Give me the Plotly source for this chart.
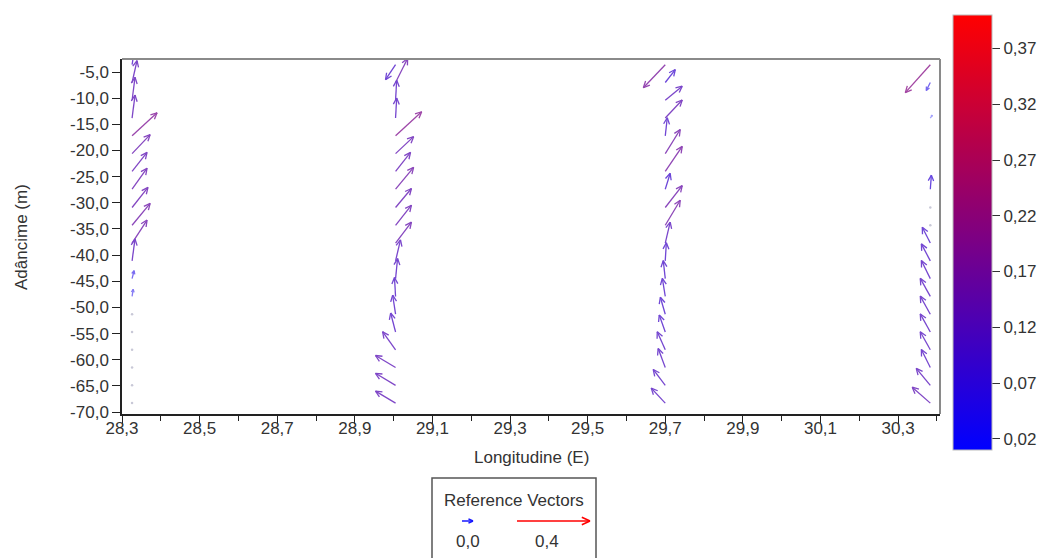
import math
import plotly.graph_objects as go

# ---------------- data ----------------
depth_levels = [-3.6, -7.0, -10.4, -13.8, -17.2, -20.6, -24.0, -27.4, -30.9, -34.3,
                -37.7, -41.1, -44.5, -47.9, -51.3, -54.7, -58.1, -61.5, -64.9, -68.3]
station_lon = [28.326, 29.005, 29.700, 30.383]

# velocity components (m/s): u = eastward, v = upward on the section
u_st1 = [0.016, 0.027, 0.016, 0.016, 0.137, 0.099, 0.082, 0.082, 0.087, 0.099,
         0.082, 0.016, 0.011, 0.006, 0.001, 0.001, 0.001, 0.001, 0.001, 0.001]
v_st1 = [0.099, 0.120, 0.126, 0.126, 0.126, 0.104, 0.104, 0.115, 0.110, 0.120,
         0.126, 0.120, 0.044, 0.039, 0.001, 0.001, 0.001, 0.001, 0.001, 0.001]

u_st2 = [-0.055, 0.066, 0.006, 0.006, 0.143, 0.099, 0.082, 0.099, 0.087, 0.087,
         0.087, 0.027, 0.011, -0.006, -0.016, -0.027, -0.071, -0.110, -0.110, -0.110]
v_st2 = [-0.082, 0.132, 0.110, 0.110, 0.132, 0.093, 0.104, 0.120, 0.104, 0.110,
         0.115, 0.115, 0.110, 0.104, 0.104, 0.104, 0.099, 0.066, 0.066, 0.066]

u_st3 = [-0.120, 0.055, 0.093, 0.093, 0.011, 0.082, 0.093, 0.027, 0.093, 0.082,
         0.027, 0.006, -0.011, -0.016, -0.027, -0.033, -0.044, -0.039, -0.066, -0.077]
v_st3 = [-0.126, 0.071, 0.077, 0.099, 0.099, 0.132, 0.137, 0.087, 0.120, 0.137,
         0.115, 0.099, 0.099, 0.099, 0.093, 0.093, 0.099, 0.104, 0.087, 0.082]

NA = None
u_st4 = [-0.137, -0.022, NA, 0.011, NA, NA, NA, 0.006, 0.001, 0.002,
         -0.044, -0.049, -0.049, -0.055, -0.055, -0.055, -0.055, -0.049, -0.077, -0.099]
v_st4 = [-0.153, -0.044, NA, 0.016, NA, NA, NA, 0.077, 0.002, 0.006,
         0.087, 0.093, 0.099, 0.099, 0.099, 0.099, 0.099, 0.099, 0.093, 0.087]

u_all = [u_st1, u_st2, u_st3, u_st4]
v_all = [v_st1, v_st2, v_st3, v_st4]

ref_values = [0.0, 0.4]
ref_labels = ["0,0", "0,4"]
cbar_ticks = [0.02, 0.07, 0.12, 0.17, 0.22, 0.27, 0.32, 0.37]
y_ticks = [-5, -10, -15, -20, -25, -30, -35, -40, -45, -50, -55, -60, -65, -70]
y_ticktext = ["-5,0", "-10,0", "-15,0", "-20,0", "-25,0", "-30,0", "-35,0",
              "-40,0", "-45,0", "-50,0", "-55,0", "-60,0", "-65,0", "-70,0"]

# ---------------- geometry / style ----------------
FIG_W, FIG_H = 1059, 558
ML, MR, MT, MB = 122, 119, 59, 144
PW, PH = FIG_W - ML - MR, FIG_H - MT - MB
X_RANGE = [28.3, 30.408]
Y_RANGE = [-70.38, -2.51]
PX_LON = PW / (X_RANGE[1] - X_RANGE[0])
PX_M = PH / (Y_RANGE[1] - Y_RANGE[0])
VEC_SCALE = 182.5          # px per m/s
CMIN, CMAX = 0.01, 0.40
FONT = "Liberation Sans, Arial, sans-serif"
TXT = "#333333"


def cmap(s):
    t = min(1.0, max(0.0, (s - CMIN) / (CMAX - CMIN)))
    return (255 * t, 0.0, 255 * (1 - t))


def blend(rgb, w):
    r, g, b = rgb
    return "rgb(%d,%d,%d)" % (r + (255 - r) * w, g + (255 - g) * w, b + (255 - b) * w)


def px_x(px):
    return (px - ML) / PW


def px_y(py):
    return (FIG_H - MB - py) / PH


def rot(x, y, ang):
    c, s = math.cos(ang), math.sin(ang)
    return x * c - y * s, x * s + y * c


fig = go.Figure()

# vectors (tail at the measurement point)
for lon, us, vs in zip(station_lon, u_all, v_all):
    for d, u, v in zip(depth_levels, us, vs):
        if u is None or v is None:
            continue
        dxp, dyp = u * VEC_SCALE, v * VEC_SCALE
        L = math.hypot(dxp, dyp)
        spd = math.hypot(u, v)
        w = 0.28 + 0.5 * max(0.0, 1 - L / 12.0)
        col = blend(cmap(spd), w)
        if L < 1.5:
            fig.add_trace(go.Scatter(x=[lon], y=[d], mode="markers",
                                     marker=dict(size=2.5, color="rgb(200,200,215)"),
                                     hoverinfo="skip", showlegend=False))
            continue
        hx, hy = lon + dxp / PX_LON, d + dyp / PX_M
        ex, ey = dxp / L, dyp / L
        h = min(7.0, 0.45 * L)
        xs = [lon, hx, None]
        ys = [d, hy, None]
        for ang in (math.radians(25), -math.radians(25)):
            rx, ry = rot(-ex, -ey, ang)
            xs += [hx + rx * h / PX_LON, hx, None]
            ys += [hy + ry * h / PX_M, hy, None]
        fig.add_trace(go.Scatter(x=xs, y=ys, mode="lines",
                                 line=dict(color=col, width=1.3),
                                 hoverinfo="skip", showlegend=False))

# colorbar carrier
fig.add_trace(go.Scatter(
    x=[27.0, 27.0], y=[0, 0], mode="markers",
    marker=dict(color=[CMIN, CMAX], cmin=CMIN, cmax=CMAX,
                colorscale=[[0, "rgb(0,0,255)"], [0.5, "rgb(128,0,128)"], [1, "rgb(255,0,0)"]],
                showscale=True,
                colorbar=dict(
                    x=px_x(953), xanchor="left", xpad=0,
                    y=px_y(232.5), yanchor="middle", ypad=0,
                    thickness=39, thicknessmode="pixels",
                    len=435, lenmode="pixels",
                    outlinewidth=1, outlinecolor="#bbbbbb",
                    tickvals=cbar_ticks, tickformat=".2f",
                    ticks="outside", ticklen=8, tickcolor="#333",
                    tickfont=dict(family=FONT, size=17, color=TXT))),
    hoverinfo="skip", showlegend=False))

shapes = []
# frame top / right
shapes.append(dict(type="line", xref="paper", yref="paper", x0=0, x1=1, y0=1, y1=1,
                   line=dict(color="#8a8a8a", width=2)))
shapes.append(dict(type="line", xref="paper", yref="paper", x0=1, x1=1, y0=0, y1=1,
                   line=dict(color="#8a8a8a", width=2)))

# reference vectors box
shapes.append(dict(type="rect", xref="paper", yref="paper",
                   x0=px_x(432), x1=px_x(596), y0=px_y(600), y1=px_y(478),
                   line=dict(color="#555555", width=1.5)))
ref_x0 = [462, 517]
ref_lab_x = [468, 547]
ref_y = 521
annotations = []
for val, lab, x0, lx in zip(ref_values, ref_labels, ref_x0, ref_lab_x):
    Lpx = max(11.0, val * VEC_SCALE)
    col = blend(cmap(val), 0.0 if val > 0 else 0.1)
    x1 = x0 + Lpx
    shapes.append(dict(type="line", xref="paper", yref="paper",
                       x0=px_x(x0), x1=px_x(x1), y0=px_y(ref_y), y1=px_y(ref_y),
                       line=dict(color=col, width=1.5)))
    hl = 9 if Lpx > 30 else 5
    for sgn in (1, -1):
        shapes.append(dict(type="line", xref="paper", yref="paper",
                           x0=px_x(x1 - hl * math.cos(math.radians(25))), x1=px_x(x1),
                           y0=px_y(ref_y + sgn * hl * math.sin(math.radians(25))), y1=px_y(ref_y),
                           line=dict(color=col, width=1.5)))
    annotations.append(dict(xref="paper", yref="paper", x=px_x(lx), y=px_y(541),
                            xanchor="center", yanchor="middle",
                            text=lab, showarrow=False,
                            font=dict(family=FONT, size=17, color=TXT)))

annotations.append(dict(xref="paper", yref="paper", x=px_x(514), y=px_y(500),
                        xanchor="center", yanchor="middle",
                        text="Reference Vectors", showarrow=False,
                        font=dict(family=FONT, size=17, color=TXT)))
annotations.append(dict(xref="paper", yref="paper", x=px_x(531), y=px_y(457),
                        xanchor="center", yanchor="middle",
                        text="Longitudine (E)", showarrow=False,
                        font=dict(family=FONT, size=17, color=TXT)))
annotations.append(dict(xref="paper", yref="paper", x=px_x(21), y=px_y(237),
                        xanchor="center", yanchor="middle",
                        text="Adâncime (m)", showarrow=False, textangle=-90,
                        font=dict(family=FONT, size=17, color=TXT)))

fig.update_layout(
    width=FIG_W, height=FIG_H,
    margin=dict(l=ML, r=MR, t=MT, b=MB, autoexpand=False),
    paper_bgcolor="white", plot_bgcolor="white",
    separators=", ",
    shapes=shapes, annotations=annotations,
    font=dict(family=FONT, size=17, color=TXT),
    xaxis=dict(range=X_RANGE, tick0=28.3, dtick=0.2, tickformat=".1f",
               ticks="outside", ticklen=8, tickcolor="#222", showgrid=False, zeroline=False,
               showline=True, linecolor="#222", linewidth=1.5, ticklabelstandoff=-10,
               minor=dict(tick0=28.3, dtick=0.1, ticks="outside", ticklen=5, tickcolor="#222"),
               tickfont=dict(family=FONT, size=17, color=TXT)),
    yaxis=dict(range=Y_RANGE, tickvals=y_ticks, ticktext=y_ticktext,
               ticks="outside", ticklen=8, tickcolor="#222", showgrid=False, zeroline=False,
               showline=True, linecolor="#222", linewidth=1.5,
               tickfont=dict(family=FONT, size=17, color=TXT)),
)

fig.write_html("out.html")
